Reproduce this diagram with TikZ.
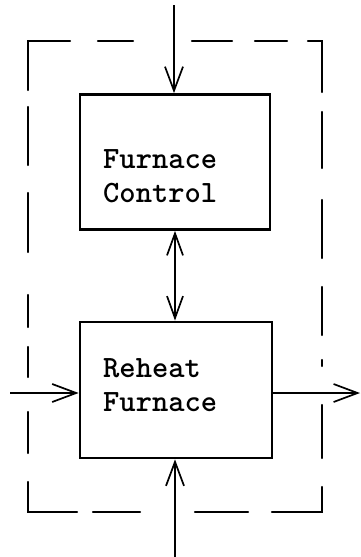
\documentclass[tikz,border=0pt]{standalone}
\usetikzlibrary{arrows.meta}
\begin{document}
\begin{tikzpicture}[x=1pt,y=-1pt,
  box/.style={draw,line width=2.8pt,minimum width=190pt,minimum height=135pt,inner sep=0pt},
  lbl/.style={font=\fontsize{31}{34}\selectfont\ttfamily\bfseries,align=left,anchor=west,inner sep=0pt},
  flow/.style={line width=1.7pt,-{Straight Barb[length=24pt,width=18pt,line width=1.7pt]}},
  flowboth/.style={line width=1.7pt,{Straight Barb[length=22pt,width=16pt,line width=1.7pt]}-{Straight Barb[length=22pt,width=16pt,line width=1.7pt]}},
  frame/.style={line width=2.2pt,line cap=round,line join=miter}]
\useasboundingbox (0,0) rectangle (361,557);
% dashed frame drawn as hand-placed segments
\draw[frame] (28,90) -- (28,41) -- (70,41);
\draw[frame] (98,41) -- (133,41);
\draw[frame] (192,41) -- (232,41);
\draw[frame] (255,41) -- (287,41);
\draw[frame] (308,41) -- (322,41) -- (322,92);
\draw[frame] (322,112) -- (322,168);
\draw[frame] (322,200) -- (322,258);
\draw[frame] (322,287) -- (322,335);
\draw[frame] (322,360) -- (322,366);
\draw[frame] (322,405) -- (322,458);
\draw[frame] (322,487) -- (322,512) -- (272,512);
\draw[frame] (248,512) -- (195,512);
\draw[frame] (140,512) -- (93,512);
\draw[frame] (77,512) -- (28,512) -- (28,482);
\draw[frame] (28,453) -- (28,412);
\draw[frame] (28,377) -- (28,347);
\draw[frame] (28,327) -- (28,295);
\draw[frame] (28,252) -- (28,193);
\draw[frame] (28,165) -- (28,107);
% blocks
\node[box] (ctrl) at (175,162) {};
\node[lbl] (ctrlt) at (103,176) {Furnace\\Control};
\node[box,minimum width=192pt,minimum height=136pt] (furn) at (176,390) {};
\node[lbl] (furnt) at (103,385) {Reheat\\Furnace};
% connectors
\coordinate (inT) at (174,5);
\draw[flow] (inT) -- (inT |- ctrl.north);
\draw[flowboth] (ctrl.south) -- (ctrl.south |- furn.north);
\coordinate (inL) at (10,393);
\draw[flow] (inL) -- (inL -| furn.west);
\coordinate (outR) at (360,393);
\draw[flow] (furn.east |- outR) -- (outR);
\coordinate (inB) at (175,557);
\draw[flow] (inB) -- (inB |- furn.south);
\end{tikzpicture}
\end{document}
